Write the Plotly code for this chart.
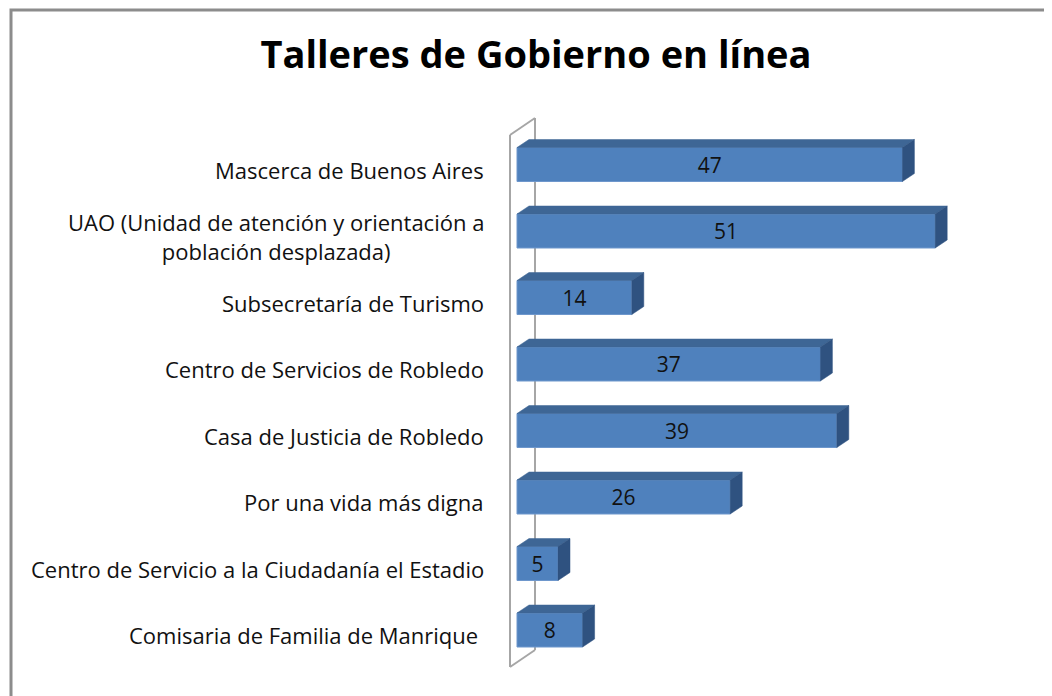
import plotly.graph_objects as go

# data
categories = [
    "Mascerca de Buenos Aires",
    "UAO (Unidad de atención y orientación a<br>población desplazada)",
    "Subsecretaría de Turismo",
    "Centro de Servicios de Robledo",
    "Casa de Justicia de Robledo",
    "Por una vida más digna",
    "Centro de Servicio a la Ciudadanía el Estadio",
    "Comisaria de Familia de Manrique ",
]
talleres = [47, 51, 14, 37, 39, 26, 5, 8]
title_text = "Talleres de Gobierno en línea"

W, H = 1052, 696
OFF = 8              # page body margin
X0_PX = 517 - OFF    # pixel of value 0
PX_PER_UNIT = 8.2
Y0_PX = 164.5 - OFF  # centre of first bar
PX_PER_ROW = 66.5
BAR_PX = 34
DEPTH_X, DEPTH_Y = 12, 8   # 3D offset in pixels

FONT = "Open Sans"
FRONT = "#4F81BD"
TOP = "#3E6695"
SIDE = "#2F5280"

dx = DEPTH_X / PX_PER_UNIT
dy = DEPTH_Y / PX_PER_ROW
half = BAR_PX / PX_PER_ROW / 2
ypos = list(range(len(categories)))

fig = go.Figure()

# top and side faces of each bar (3D look)
for y, v in zip(ypos, talleres):
    top, bot = y - half, y + half
    fig.add_trace(go.Scatter(
        x=[0, v, v + dx, dx, 0], y=[top, top, top - dy, top - dy, top],
        fill="toself", fillcolor=TOP, mode="lines",
        line=dict(color=TOP, width=0.5), hoverinfo="skip", showlegend=False))
    fig.add_trace(go.Scatter(
        x=[v, v + dx, v + dx, v, v], y=[top, top - dy, bot - dy, bot, top],
        fill="toself", fillcolor=SIDE, mode="lines",
        line=dict(color=SIDE, width=0.5), hoverinfo="skip", showlegend=False))

# front faces
fig.add_trace(go.Bar(
    x=talleres, y=ypos, orientation="h", width=2 * half,
    marker=dict(color=FRONT, line=dict(color="#6E97CC", width=1)),
    text=[str(v) for v in talleres], textposition="inside",
    insidetextanchor="middle", textangle=0,
    textfont=dict(family=FONT, size=21, color="#111111"),
    showlegend=False))

# category labels
for y, c in zip(ypos, categories):
    fig.add_annotation(
        x=(486 - OFF - X0_PX) / PX_PER_UNIT, y=y, xref="x", yref="y",
        text=c, showarrow=False, xanchor="right", align="center", yshift=-5,
        font=dict(family=FONT, size=22, color="#111111"))

# back wall of the chart
def px(x, y):
    return (x - OFF) / W, 1 - (y - OFF) / H

wall = [((510, 135), (510, 667)), ((535, 118), (535, 650)),
        ((510, 135), (535, 118)), ((510, 667), (535, 650))]
for (a, b) in wall:
    x1, y1 = px(*a)
    x2, y2 = px(*b)
    fig.add_shape(type="line", xref="paper", yref="paper",
                  x0=x1, y0=y1, x1=x2, y1=y2, layer="below",
                  line=dict(color="#A6A6A6", width=2))

# outer frame
bx0, by0 = px(11, 10)
fig.add_shape(type="rect", xref="paper", yref="paper",
              x0=bx0, y0=-0.05, x1=1.05, y1=by0,
              line=dict(color="#8C8C8C", width=3))

fig.update_layout(
    width=W, height=H,
    margin=dict(l=0, r=0, t=0, b=0),
    plot_bgcolor="white", paper_bgcolor="white",
    title=dict(text="<b>" + title_text + "</b>", x=(536 - OFF) / W,
               xanchor="center", y=1 - (55 - OFF) / H, yanchor="middle",
               font=dict(family=FONT, size=38, color="black")),
    xaxis=dict(range=[-X0_PX / PX_PER_UNIT, (W - X0_PX) / PX_PER_UNIT],
               visible=False, fixedrange=True),
    yaxis=dict(range=[(H - Y0_PX) / PX_PER_ROW, -Y0_PX / PX_PER_ROW],
               visible=False, fixedrange=True),
)

fig.write_html("out.html")
